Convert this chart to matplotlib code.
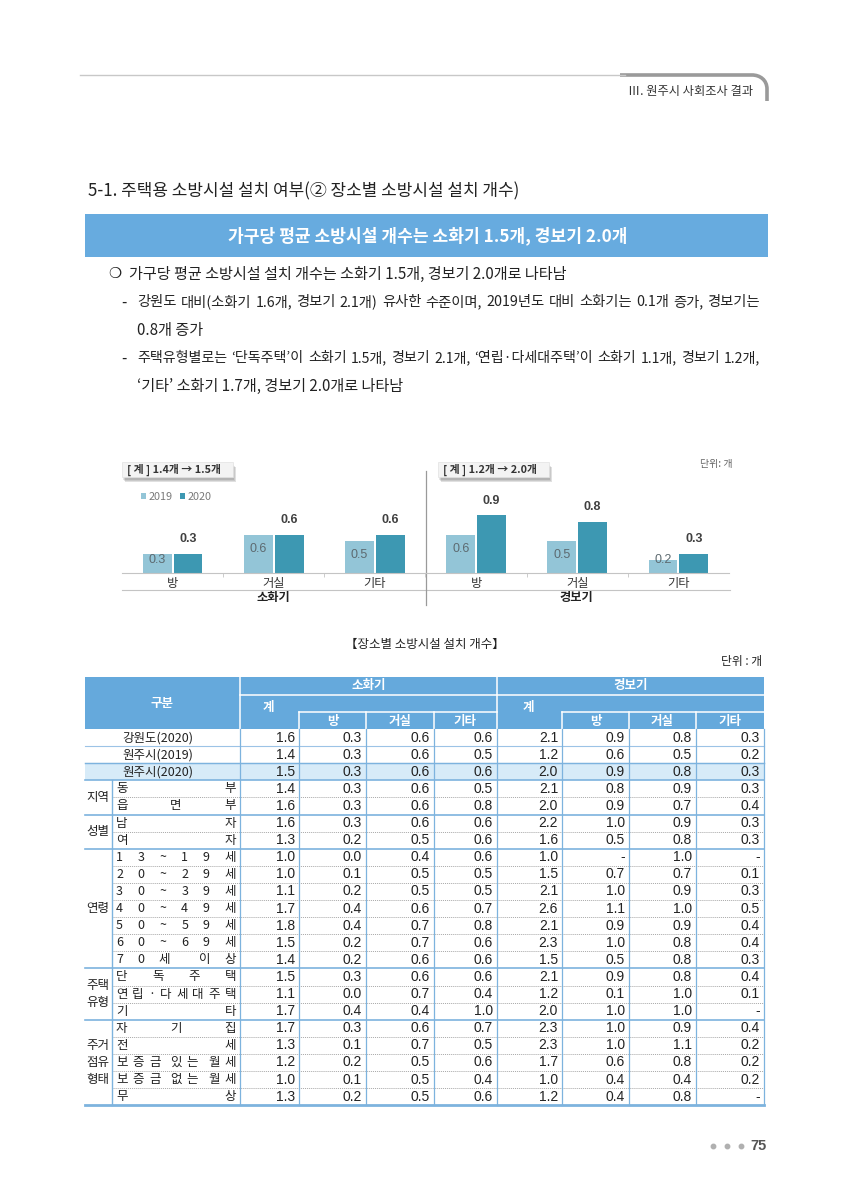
import matplotlib
matplotlib.use("Agg")
import matplotlib.pyplot as plt
from matplotlib.patches import Rectangle, PathPatch
from matplotlib.path import Path

KR = ['Noto Sans CJK KR', 'DejaVu Sans']
NUM = ['Liberation Sans Narrow', 'Liberation Sans', 'DejaVu Sans']
LAT = ['Liberation Sans', 'DejaVu Sans']
plt.rcParams['font.family'] = KR

# ---- 차트 데이터 ----
places = ['방', '거실', '기타']
groups = ['소화기', '경보기']
ext_2019 = [0.3, 0.6, 0.5]
ext_2020 = [0.3, 0.6, 0.6]
alarm_2019 = [0.6, 0.5, 0.2]
alarm_2020 = [0.9, 0.8, 0.3]
total_boxes = ['[ 계 ] 1.4개 → 1.5개', '[ 계 ] 1.2개 → 2.0개']

# ---- 표 데이터 ----
row_labels = ['강원도(2020)', '원주시(2019)', '원주시(2020)', '동부', '읍면부', '남자', '여자',
              '13~19세', '20~29세', '30~39세', '40~49세', '50~59세', '60~69세', '70세 이상',
              '단독주택', '연립·다세대주택', '기타',
              '자기집', '전세', '보증금 있는 월세', '보증금 없는 월세', '무상']
row_groups = [(None, 3), ('지역', 2), ('성별', 2), ('연령', 7), ('주택\n유형', 3), ('주거\n점유\n형태', 5)]
ext_total_col = [1.6, 1.4, 1.5, 1.4, 1.6, 1.6, 1.3, 1.0, 1.0, 1.1, 1.7, 1.8, 1.5, 1.4, 1.5, 1.1, 1.7, 1.7, 1.3, 1.2, 1.0, 1.3]
ext_room = [0.3, 0.3, 0.3, 0.3, 0.3, 0.3, 0.2, 0.0, 0.1, 0.2, 0.4, 0.4, 0.2, 0.2, 0.3, 0.0, 0.4, 0.3, 0.1, 0.2, 0.1, 0.2]
ext_living = [0.6, 0.6, 0.6, 0.6, 0.6, 0.6, 0.5, 0.4, 0.5, 0.5, 0.6, 0.7, 0.7, 0.6, 0.6, 0.7, 0.4, 0.6, 0.7, 0.5, 0.5, 0.5]
ext_other = [0.6, 0.5, 0.6, 0.5, 0.8, 0.6, 0.6, 0.6, 0.5, 0.5, 0.7, 0.8, 0.6, 0.6, 0.6, 0.4, 1.0, 0.7, 0.5, 0.6, 0.4, 0.6]
alarm_total_col = [2.1, 1.2, 2.0, 2.1, 2.0, 2.2, 1.6, 1.0, 1.5, 2.1, 2.6, 2.1, 2.3, 1.5, 2.1, 1.2, 2.0, 2.3, 2.3, 1.7, 1.0, 1.2]
alarm_room = [0.9, 0.6, 0.9, 0.8, 0.9, 1.0, 0.5, None, 0.7, 1.0, 1.1, 0.9, 1.0, 0.5, 0.9, 0.1, 1.0, 1.0, 1.0, 0.6, 0.4, 0.4]
alarm_living = [0.8, 0.5, 0.8, 0.9, 0.7, 0.9, 0.8, 1.0, 0.7, 0.9, 1.0, 0.9, 0.8, 0.8, 0.8, 1.0, 1.0, 0.9, 1.1, 0.8, 0.4, 0.8]
alarm_other = [0.3, 0.2, 0.3, 0.3, 0.4, 0.3, 0.3, None, 0.1, 0.3, 0.5, 0.4, 0.4, 0.3, 0.4, 0.1, None, 0.4, 0.2, 0.2, 0.2, None]
table_cols = [ext_total_col, ext_room, ext_living, ext_other,
              alarm_total_col, alarm_room, alarm_living, alarm_other]

# ---- 본문 ----
section_title = '5-1. 주택용 소방시설 설치 여부(② 장소별 소방시설 설치 개수)'
banner_text = '가구당 평균 소방시설 개수는 소화기 1.5개, 경보기 2.0개'
body = [
    ('❍', '가구당 평균 소방시설 설치 개수는 소화기 1.5개, 경보기 2.0개로 나타남', False),
    ('-', '강원도 대비(소화기 1.6개, 경보기 2.1개) 유사한 수준이며, 2019년도 대비 소화기는 0.1개 증가, 경보기는', True),
    ('', '0.8개 증가', False),
    ('-', '주택유형별로는 ‘단독주택’이 소화기 1.5개, 경보기 2.1개, ‘연립·다세대주택’이 소화기 1.1개, 경보기 1.2개,', True),
    ('', '‘기타’ 소화기 1.7개, 경보기 2.0개로 나타남', False),
]

BLUE = '#65A9DC'
C19 = '#93C5D7'
C20 = '#3D98B2'
TXT = '#222222'

fig = plt.figure(figsize=(8.48, 12), dpi=100)
page = fig.add_axes([0, 0, 1, 1])
page.set_xlim(0, 848)
page.set_ylim(1200, 0)
page.axis('off')
r = fig.canvas.get_renderer()


def width_of(t):
    return t.get_window_extent(renderer=r).width


def spread(s, x0, x1, y, **kw):
    # 글자를 칸 전체에 고르게 배치 (균등 분할)
    ts = [page.text(0, y, c, va='center', ha='left', **kw) for c in s]
    ws = [width_of(t) if c.strip() else 0 for t, c in zip(ts, s)]
    gap = (x1 - x0 - sum(ws)) / (len(s) - 1)
    x = x0
    for t, w in zip(ts, ws):
        t.set_x(x)
        x += w + gap


def justify(text, x0, x1, y, fs, **kw):
    words = text.split(' ')
    ts = [page.text(0, y, w, va='center', ha='left', fontsize=fs, **kw) for w in words]
    while True:
        ws = [width_of(t) for t in ts]
        gap = (x1 - x0 - sum(ws)) / (len(words) - 1)
        if gap >= 3.5:
            break
        fs -= 0.2
        for t in ts:
            t.set_fontsize(fs)
    x = x0
    for t, w in zip(ts, ws):
        t.set_x(x)
        x += w + gap


# ---- 머리말 ----
page.plot([80, 625], [75, 75], color='#c8c8c8', lw=1)
hp = Path([(620, 75), (752, 75), (760, 75), (767, 80), (767, 89), (767, 101)],
          [Path.MOVETO, Path.LINETO, Path.CURVE4, Path.CURVE4, Path.CURVE4, Path.LINETO])
page.add_patch(PathPatch(hp, fc='none', ec='#9a9a9a', lw=2.6))
page.text(753, 92, 'Ⅲ. 원주시 사회조사 결과', ha='right', va='center', fontsize=8.8,
          color='#333333', fontweight='medium')

page.text(88, 191, section_title, ha='left', va='center', fontsize=12.2, color=TXT)
page.add_patch(Rectangle((85, 214), 683, 43, fc='#67ABDF', ec='none'))
page.text(428, 236, banner_text, ha='center', va='center', fontsize=12.3,
          color='white', fontweight='bold')

BFS = 10.9
body_y = [274, 302, 330, 358, 386]
for (mark, line, just), y in zip(body, body_y):
    if mark == '❍':
        page.text(108, y, mark, ha='left', va='center', fontsize=10.5,
                  family=['DejaVu Sans', 'Noto Sans CJK KR'], color=TXT)
        x0 = 129
    elif mark == '-':
        page.text(121, y, '-', ha='left', va='center', fontsize=BFS, color=TXT)
        x0 = 137
    else:
        x0 = 137
    if just:
        justify(line, x0, 760, y, BFS, color=TXT)
    else:
        page.text(x0, y, line, ha='left', va='center', fontsize=BFS, color=TXT)

# ---- 막대 그래프 ----
x_left, x_right, base_y, px_per_unit = 122, 729, 573, 64
ax_top = 470
cax = fig.add_axes([x_left / 848, 1 - base_y / 1200,
                    (x_right - x_left) / 848, (base_y - ax_top) / 1200])
cax.set_facecolor('none')
ncat = len(places) * len(groups)
cax.set_xlim(-0.5, ncat - 0.5)
cax.set_ylim(0, (base_y - ax_top) / px_per_unit)
v19 = ext_2019 + alarm_2019
v20 = ext_2020 + alarm_2020
xs = list(range(ncat))
off, bw = 0.152, 0.285
cax.bar([x - off for x in xs], v19, bw, color=C19, label='2019')
cax.bar([x + off for x in xs], v20, bw, color=C20, label='2020')
for x, a, b in zip(xs, v19, v20):
    cax.text(x - off, max(a - 0.22, 0.2), f'{a:.1f}', ha='center', va='center',
             fontsize=9, color='#5d6a70', family=LAT)
    cax.text(x + off, b + 0.23, f'{b:.1f}', ha='center', va='center',
             fontsize=9, color='#404040', family=LAT, fontweight='bold')
for s in ['top', 'right', 'left']:
    cax.spines[s].set_visible(False)
cax.spines['bottom'].set_color('#c4c4c4')
cax.set_yticks([])
cax.set_xticks(xs)
cax.set_xticklabels(places * len(groups), fontsize=8.8, color='#333333')
cax.tick_params(axis='x', length=0, pad=3)
cax.set_xticks([x + 0.5 for x in xs[:-1]], minor=True)
cax.tick_params(axis='x', which='minor', length=3, color='#c4c4c4')
cax.legend(loc='center left', bbox_to_anchor=(131 / 848, 1 - 497 / 1200),
           bbox_transform=fig.transFigure, ncol=2, frameon=False, fontsize=7.8,
           handlelength=0.45, handleheight=0.45, handletextpad=0.25,
           columnspacing=0.7, labelcolor='#7a7a7a')

page.plot([122, 730], [590, 590], color='#c4c4c4', lw=0.8)
page.plot([425.5, 425.5], [471, 605], color='#9a9a9a', lw=0.9)
for i, g in enumerate(groups):
    cx = x_left + (x_right - x_left) / ncat * (1.5 + 3 * i) - 0.5
    page.text(cx, 598, g, ha='center', va='center', fontsize=8.8,
              fontweight='bold', color='#222222')

for bx, label in zip([122, 438], total_boxes):
    for k, a in enumerate([0.10, 0.10, 0.12]):
        page.add_patch(Rectangle((bx + 1 + k, 463 + 1.5 + k), 111, 15,
                                 fc='#000000', alpha=a, ec='none'))
    page.add_patch(Rectangle((bx, 462), 111, 15, fc='#f3f3f3', ec='#e2e2e2', lw=0.5))
    page.text(bx + 5, 469.5, label, ha='left', va='center', fontsize=7.8,
              fontweight='bold', color='#333333')
page.text(732, 464, '단위: 개', ha='right', va='center', fontsize=7.2, color='#666666')

# ---- 표 ----
page.text(425, 644, '【장소별 소방시설 설치 개수】', ha='center', va='center', fontsize=9, color=TXT)
page.text(762, 662, '단위 : 개', ha='right', va='center', fontsize=8.5, color=TXT)

L, R = 85, 764
col_edges = [240, 299, 366, 434, 497, 562, 629, 696, 764]
t_top, t_h1, t_h2, t_hb = 677, 695, 712, 729
rh = 17.1
nrow = len(row_labels)
t_bot = t_hb + rh * nrow

page.add_patch(Rectangle((L, t_top), R - L, t_hb - t_top, fc=BLUE, ec='none'))
wl = dict(color='white', lw=1.1)
page.plot([240, 240], [t_top, t_hb], **wl)
page.plot([497, 497], [t_top, t_hb], **wl)
page.plot([240, R], [t_h1, t_h1], **wl)
page.plot([299, 497], [t_h2, t_h2], **wl)
page.plot([562, R], [t_h2, t_h2], **wl)
for xe in [299, 366, 434, 562, 629, 696]:
    page.plot([xe, xe], [t_h2, t_hb], **wl)
hk = dict(ha='center', va='center', color='white', fontweight='bold', fontsize=9)
page.text(162, 703, '구분', **hk)
page.text(368.5, 686, groups[0], **hk)
page.text(630.5, 686, groups[1], **hk)
sub = ['방', '거실', '기타']
for e0, e1, name in [(240, 299, '계'), (497, 562, '계')]:
    page.text((e0 + e1) / 2 - 1, 707, name, **hk)
for k in range(3):
    page.text((col_edges[k + 1] + col_edges[k + 2]) / 2, 721, sub[k], **hk)
    page.text((col_edges[k + 5] + col_edges[k + 6]) / 2, 721, sub[k], **hk)

# 강조 행
page.add_patch(Rectangle((L, t_hb + 2 * rh), R - L, rh, fc='#D7EBF8', ec='none'))

row_start = 0
bounds = []
for g, n in row_groups:
    yc_g = t_hb + rh * (row_start + n / 2)
    if g is not None:
        page.text(98, yc_g, g, ha='center', va='center', fontsize=9, color=TXT,
                  linespacing=1.4)
    for i in range(row_start, row_start + n):
        yc = t_hb + rh * (i + 0.5)
        if g is None:
            page.text(158, yc, row_labels[i], ha='center', va='center', fontsize=9, color=TXT)
        else:
            spread(row_labels[i], 116, 236, yc, fontsize=9, color=TXT)
        if i < row_start + n - 1:
            yl = t_hb + rh * (i + 1)
            if g is None:
                page.plot([L, R], [yl, yl], color='#9CC3E6', lw=0.8)
            else:
                page.plot([112, R], [yl, yl], color='#a8a8a8', lw=0.7, ls=(0, (1, 1)))
    row_start += n
    bounds.append(t_hb + rh * row_start)

for yb in bounds[:-1]:
    page.plot([L, R], [yb, yb], color='#7DB3DE', lw=1.2)
page.plot([L, R], [t_bot, t_bot], color='#7DB3DE', lw=2)
page.plot([L, R], [t_hb + 2 * rh, t_hb + 2 * rh], color='#7DB3DE', lw=1.0)
page.plot([112, 112], [t_hb + 3 * rh, t_bot], color='#7DB3DE', lw=1.0)
for xe in col_edges:
    page.plot([xe, xe], [t_hb, t_bot], color='#7DB3DE', lw=0.9)

for j, col in enumerate(table_cols):
    xr = col_edges[j + 1] - 4
    for i, v in enumerate(col):
        yc = t_hb + rh * (i + 0.5)
        s = '-' if v is None else f'{v:.1f}'
        page.text(xr, yc, s, ha='right', va='center', fontsize=10, color=TXT, family=NUM)

# ---- 쪽 번호 ----
for dx in [713, 727, 741]:
    page.plot(dx, 1146, 'o', ms=3.2, color='#b0b0b0')
page.text(767, 1146, '75', ha='right', va='center', fontsize=10.5, fontweight='bold',
          color='#555555', family=LAT)

fig.savefig('out.png', dpi=100)
